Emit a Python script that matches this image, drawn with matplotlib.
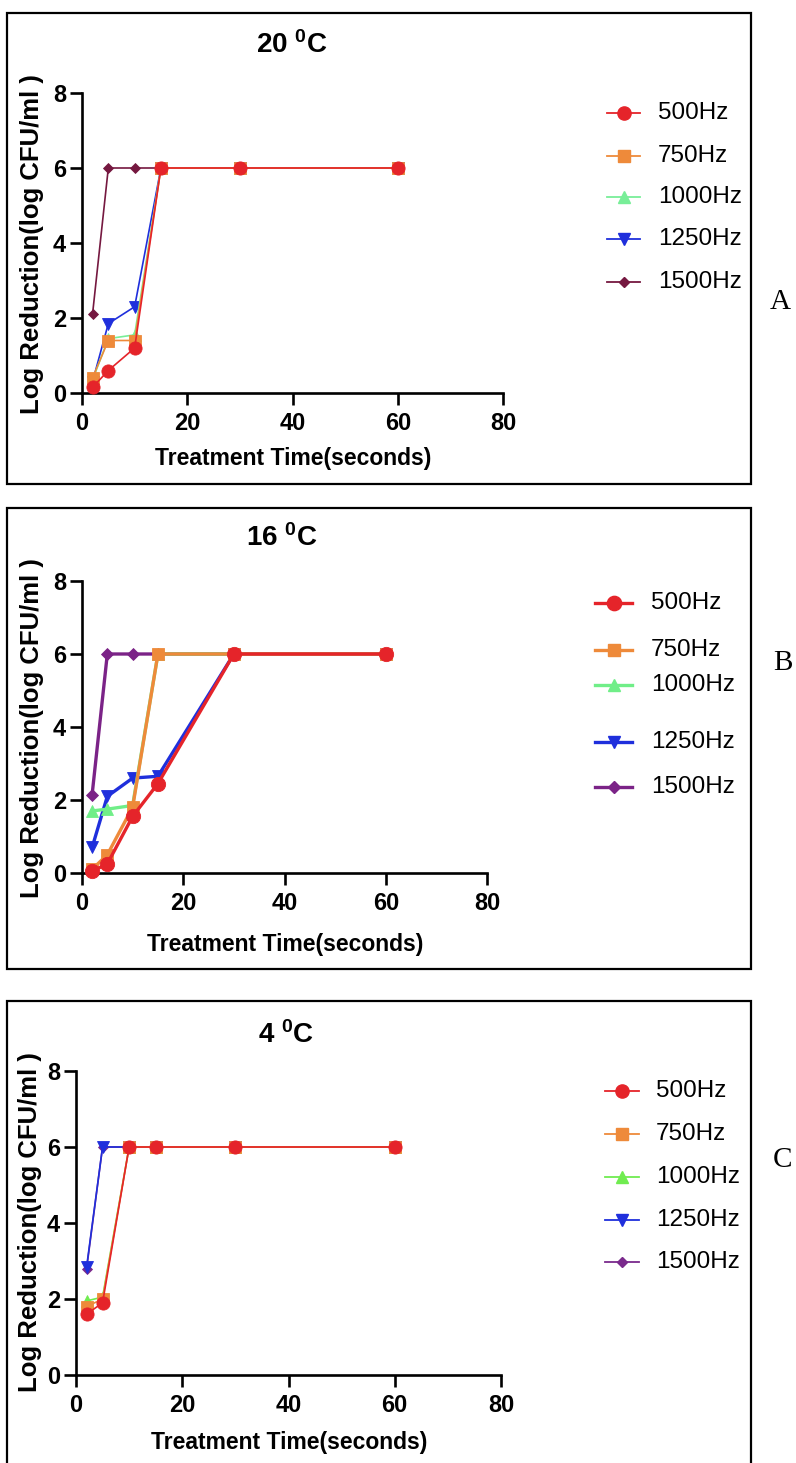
import matplotlib
matplotlib.use("Agg")
import matplotlib.pyplot as plt
from matplotlib.lines import Line2D
from matplotlib.patches import Rectangle

# ---- data -------------------------------------------------------------
times = [2, 5, 10, 15, 30, 60]
freqs = ["500Hz", "750Hz", "1000Hz", "1250Hz", "1500Hz"]
temps = ["20", "16", "4"]
letters = ["A", "B", "C"]

# 20 C
a_500 = [0.15, 0.6, 1.2, 6, 6, 6]
a_750 = [0.4, 1.4, 1.4, 6, 6, 6]
a_1000 = [0.35, 1.45, 1.55, 6, 6, 6]
a_1250 = [0.3, 1.85, 2.3, 6, 6, 6]
a_1500 = [2.1, 6, 6, 6, 6, 6]

# 16 C
b_500 = [0.05, 0.25, 1.55, 2.45, 6, 6]
b_750 = [0.1, 0.5, 1.8, 6, 6, 6]
b_1000 = [1.7, 1.75, 1.85, 6, 6, 6]
b_1250 = [0.7, 2.1, 2.6, 2.65, 6, 6]
b_1500 = [2.15, 6, 6, 6, 6, 6]

# 4 C
c_500 = [1.6, 1.9, 6, 6, 6, 6]
c_750 = [1.8, 2.0, 6, 6, 6, 6]
c_1000 = [1.95, 2.05, 6, 6, 6, 6]
c_1250 = [2.85, 6, 6, 6, 6, 6]
c_1500 = [2.8, 6, 6, 6, 6, 6]

panel_series = [
    [a_500, a_750, a_1000, a_1250, a_1500],
    [b_500, b_750, b_1000, b_1250, b_1500],
    [c_500, c_750, c_1000, c_1250, c_1500],
]

# ---- style / layout ---------------------------------------------------
W, H = 796, 1463
markers = ["o", "s", "^", "v", "D"]
msizes = [9.5, 8, 8.5, 8.5, 5.5]
palettes = [
    ["#e5242a", "#ee8a3a", "#78ee98", "#1f2fdc", "#751840"],
    ["#e5242a", "#ee8a3a", "#70ee88", "#1f2fdc", "#7b2387"],
    ["#e5242a", "#ee8a3a", "#70ec50", "#1f2fdc", "#7a2a8c"],
]
linewidths = [1.2, 2.4, 1.2]

# pixel layout: axes (x0, x8, y0, y8 in px), frame (top, bottom), texts
axes_px = [(82, 503, 393, 93), (82, 487, 873, 581), (76, 501, 1375, 1071)]
frames = [(12.5, 484), (508, 969), (1001, 1475)]
title_pos = [(292, 45), (282, 538), (286, 1035)]
xlabel_pos = [(293, 459), (285, 944), (289, 1442)]
ylabel_pos = [(32, 244), (32, 728), (30, 1222)]
letter_pos = [(780, 302), (783, 663), (783, 1160)]
legend_x = [(607, 640, 658), (595, 632, 651), (605, 639, 656)]
legend_rows = [
    [113, 156, 197, 239, 282],
    [603, 650, 685, 742, 787],
    [1091, 1134, 1177, 1220, 1262],
]

plt.rcParams["font.family"] = ["Liberation Sans", "DejaVu Sans"]
plt.rcParams["mathtext.fontset"] = "custom"
plt.rcParams["mathtext.rm"] = "Liberation Sans:bold"
plt.rcParams["mathtext.it"] = "Liberation Sans:bold"
plt.rcParams["mathtext.bf"] = "Liberation Sans:bold"


def fx(x):
    return x / W


def fy(y):
    return 1 - y / H


fig = plt.figure(figsize=(W / 100, H / 100), dpi=100)
fig.patch.set_facecolor("white")

for p in range(3):
    x0, x8, y0, y8 = axes_px[p]
    ax = fig.add_axes([fx(x0), fy(y0), (x8 - x0) / W, (y0 - y8) / H])
    cols = palettes[p]
    lw = linewidths[p]

    # draw from last to first so that 500Hz ends on top
    for i in reversed(range(5)):
        ax.plot(times, panel_series[p][i], color=cols[i], lw=lw,
                marker=markers[i], markersize=msizes[i] + (0.8 if p == 1 else 0),
                markeredgewidth=0.6, markeredgecolor=cols[i], clip_on=False,
                zorder=3 + (5 - i))

    ax.set_xlim(0, 80)
    ax.set_ylim(0, 8)
    ax.set_xticks([0, 20, 40, 60, 80])
    ax.set_yticks([0, 2, 4, 6, 8])
    for side in ["top", "right"]:
        ax.spines[side].set_visible(False)
    for side in ["left", "bottom"]:
        ax.spines[side].set_linewidth(1.9)
    ax.tick_params(axis="both", direction="out", length=8.5, width=1.9,
                   labelsize=17)
    ax.tick_params(axis="x", pad=5)
    ax.tick_params(axis="y", pad=3)
    for lab in ax.get_xticklabels() + ax.get_yticklabels():
        lab.set_fontweight("bold")
    ax.set_facecolor("none")

    # title, axis labels
    tx, ty = title_pos[p]
    fig.text(fx(tx), fy(ty), temps[p] + r" ${}^{0}$C", fontsize=20,
             fontweight="bold", ha="center", va="center")
    lx, ly = xlabel_pos[p]
    fig.text(fx(lx), fy(ly), "Treatment Time(seconds)", fontsize=16.5,
             fontweight="bold", ha="center", va="center")
    vx, vy = ylabel_pos[p]
    fig.text(fx(vx), fy(vy), "Log Reduction(log CFU/ml )", fontsize=18.5,
             fontweight="bold", ha="center", va="center", rotation=90)

    # legend rows
    hx0, hx1, tx0 = legend_x[p]
    for i in range(5):
        yy = fy(legend_rows[p][i])
        fig.add_artist(Line2D([fx(hx0), fx((hx0 + hx1) / 2), fx(hx1)],
                              [yy, yy, yy], transform=fig.transFigure,
                              color=cols[i], lw=lw if p == 1 else 1.3,
                              marker=markers[i], markevery=[1],
                              markersize=msizes[i] + (0.8 if p == 1 else 0),
                              markeredgecolor=cols[i]))
        fig.text(fx(tx0), yy, freqs[i], fontsize=17.5, ha="left", va="center")

    # panel letter
    px_, py_ = letter_pos[p]
    fig.text(fx(px_), fy(py_), letters[p], fontsize=21,
             family="Liberation Serif", ha="center", va="center")

    # panel frame
    top, bot = frames[p]
    fig.add_artist(Rectangle((fx(7), fy(bot)), (751 - 7) / W, (bot - top) / H,
                             transform=fig.transFigure, fill=False,
                             lw=1.6, ec="black"))

fig.savefig("out.png", dpi=100)
